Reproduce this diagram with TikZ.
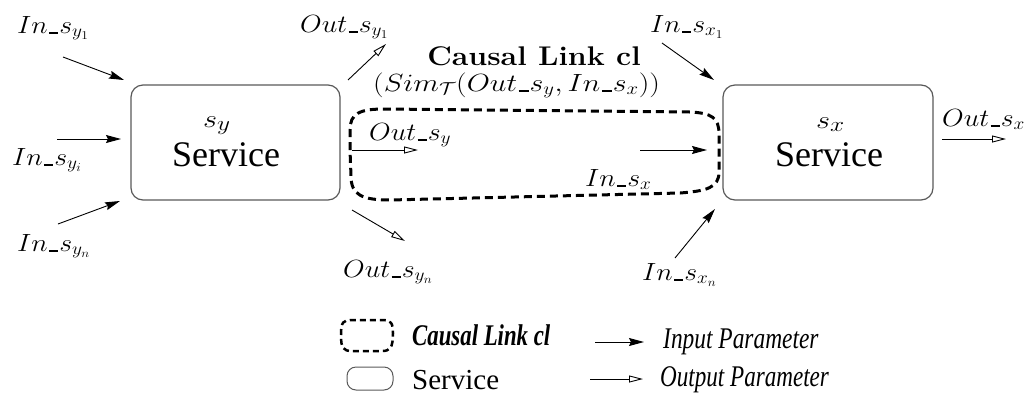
\documentclass[tikz,border=0pt]{standalone}
\usepackage{fontspec}
\newfontfamily\timesfont{Liberation Serif}
\usetikzlibrary{arrows.meta}
% short underscore sitting on the baseline
\newcommand\usc{\kern0.05em\rule[-0.02em]{0.32em}{0.05em}\kern0.03em}
% horizontally widened math label
\newcommand\wlbl[1]{\scalebox{1.12}[1]{#1}}
\tikzset{
  lbl/.style={inner sep=0pt, anchor=base west, font=\fontsize{26}{30}\selectfont},
  svc/.style={draw=black!65, line width=1.2pt, rounded corners=12pt},
  inarr/.style={line width=0.9pt, -{Stealth[length=15pt,width=8pt,inset=2pt]}},
  outarr/.style={line width=0.9pt, -{Triangle[open,length=14pt,width=7pt]}},
  cldash/.style={line width=3pt, dash pattern=on 8pt off 5pt},
  svctext/.style={inner sep=0pt, anchor=base west, font=\timesfont\fontsize{36}{40}\selectfont},
  svcname/.style={inner sep=0pt, anchor=base west, font=\fontsize{31}{34}\selectfont},
  legtext/.style={inner sep=0pt, anchor=base west, font=\timesfont\fontsize{30}{34}\selectfont},
}
\begin{document}
\begin{tikzpicture}[x=1pt, y=-1pt]
\path[use as bounding box] (0,0) rectangle (1033,405);

% services
\draw[svc] (131,85) rectangle (340,200);
\node[svcname] (syname) at (203,127) {\scalebox{1.22}[1]{$s_y$}};
\node[svctext] (sytext) at (172,166) {Service};

\draw[svc] (723,85) rectangle (933,200);
\node[svcname] (sxname) at (816,128) {\scalebox{1.22}[1]{$s_x$}};
\node[svctext] (sxtext) at (775,166) {Service};

% causal link region
\draw[cldash] (350,150) -- (350,130) .. controls (350,113) and (360,109) .. (385,109)
  -- (690,112) .. controls (712,113) and (719,118) .. (719,134)
  -- (719,172) .. controls (719,188) and (706,191) .. (680,193)
  -- (390,200) .. controls (362,200) and (351,195) .. (351,176) -- cycle;
\node[inner sep=0pt, anchor=base, font=\bfseries\fontsize{27}{32}\selectfont] (cltitle) at (534,65) {\scalebox{1.12}[1]{Causal Link cl}};
\node[lbl] (clsim) at (373,91) {\scalebox{1.2}[1]{$(Sim_{\mathcal{T}}(Out\usc s_y, In\usc s_x))$}};

% input parameters of s_y
\node[lbl] (iny1) at (17,33) {\wlbl{$In\usc s_{y_1}$}};
\node[lbl] (inyi) at (12,165) {\wlbl{$In\usc s_{y_i}$}};
\node[lbl] (inyn) at (17,251) {\wlbl{$In\usc s_{y_n}$}};
\coordinate (a1s) at (63,57);  \coordinate (a1e) at (124,80);
\coordinate (a2s) at (57,139); \coordinate (a2e) at (121,139);
\coordinate (a3s) at (58,224); \coordinate (a3e) at (120,201);
\draw[inarr] (a1s) -- (a1e);
\draw[inarr] (a2s) -- (a2e);
\draw[inarr] (a3s) -- (a3e);

% output parameters of s_y
\node[lbl] (outy1) at (300,32) {\wlbl{$Out\usc s_{y_1}$}};
\node[lbl] (outyn) at (343,277) {\wlbl{$Out\usc s_{y_n}$}};
\node[lbl] (outy) at (369,140) {\wlbl{$Out\usc s_y$}};
\coordinate (b1s) at (348,80);  \coordinate (b1e) at (386,44);
\coordinate (b2s) at (352,210); \coordinate (b2e) at (405,241);
\coordinate (b3s) at (352,150); \coordinate (b3e) at (418,150);
\draw[outarr] (b1s) -- (b1e);
\draw[outarr] (b2s) -- (b2e);
\draw[outarr] (b3s) -- (b3e);

% input parameters of s_x
\node[lbl] (inx1) at (650,32) {\wlbl{$In\usc s_{x_1}$}};
\node[lbl] (inxn) at (642,280) {\wlbl{$In\usc s_{x_n}$}};
\node[lbl] (inx) at (585,186) {\wlbl{$In\usc s_x$}};
\coordinate (c1s) at (662,43);  \coordinate (c1e) at (714,80);
\coordinate (c2s) at (675,258); \coordinate (c2e) at (715,209);
\coordinate (c3s) at (640,150); \coordinate (c3e) at (707,150);
\draw[inarr] (c1s) -- (c1e);
\draw[inarr] (c2s) -- (c2e);
\draw[inarr] (c3s) -- (c3e);

% output parameter of s_x
\node[lbl] (outx) at (942,126) {\wlbl{$Out\usc s_x$}};
\coordinate (d1s) at (942,139); \coordinate (d1e) at (1006,139);
\draw[outarr] (d1s) -- (d1e);

% legend
\draw[cldash, line width=2.5pt, dash pattern=on 6pt off 4pt] (341,335) .. controls (341,322) and (343,320) .. (352,320)
  -- (382,320) .. controls (391,320) and (393,323) .. (393,333)
  .. controls (393,348) and (390,351) .. (382,351) -- (352,351)
  .. controls (343,351) and (341,348) .. (341,335);
\node[legtext, font=\timesfont\bfseries\itshape\fontsize{30}{34}\selectfont] (legcl) at (412,345) {\scalebox{0.76}[1]{Causal Link cl}};
\draw[svc, rounded corners=9pt, line width=1pt] (347,367) rectangle (393,390);
\node[legtext, font=\timesfont\fontsize{29}{34}\selectfont] (legsvc) at (412,389) {Service};
\coordinate (e1s) at (595,342); \coordinate (e1e) at (644,342);
\coordinate (e2s) at (590,379); \coordinate (e2e) at (643,379);
\draw[inarr] (e1s) -- (e1e);
\draw[outarr] (e2s) -- (e2e);
\node[legtext, font=\timesfont\itshape\fontsize{30}{34}\selectfont] (legin) at (663,348) {\scalebox{0.78}[1]{Input Parameter}};
\node[legtext, font=\timesfont\itshape\fontsize{30}{34}\selectfont] (legout) at (660,386) {\scalebox{0.77}[1]{Output Parameter}};
\end{tikzpicture}
\end{document}
